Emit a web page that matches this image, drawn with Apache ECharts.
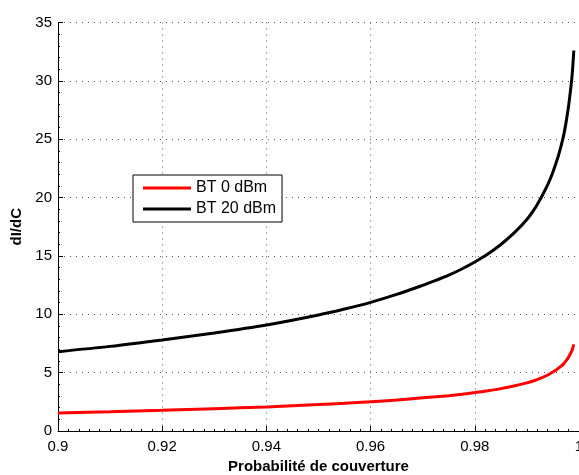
<!DOCTYPE html>
<html>
<head>
<meta charset="utf-8">
<script src="https://cdn.jsdelivr.net/npm/echarts@6/dist/echarts.min.js"></script>
<style>
html,body{margin:0;padding:0;background:#fff;overflow:hidden;width:579px;height:475px;}
#c{width:579px;height:475px;}
</style>
</head>
<body>
<div id="c"></div>
<script>
const xValues   = [0.9, 0.91, 0.92, 0.93, 0.94, 0.95, 0.955, 0.96, 0.965, 0.97, 0.9725, 0.975, 0.9775, 0.98, 0.9825, 0.985, 0.9875, 0.99, 0.9915, 0.9928, 0.994, 0.995, 0.996, 0.9965, 0.997, 0.9975, 0.998, 0.9983, 0.9986, 0.9988, 0.999];
const bt0Values = [1.54, 1.65, 1.77, 1.91, 2.06, 2.26, 2.37, 2.50, 2.66, 2.84, 2.93, 3.03, 3.15, 3.29, 3.45, 3.63, 3.85, 4.12, 4.33, 4.56, 4.80, 5.05, 5.35, 5.53, 5.73, 6.00, 6.33, 6.57, 6.84, 7.09, 7.42];
const bt20Values= [6.80, 7.25, 7.80, 8.40, 9.08, 9.94, 10.45, 11.02, 11.70, 12.48, 12.90, 13.35, 13.88, 14.48, 15.16, 15.98, 16.95, 18.12, 19.05, 20.05, 21.10, 22.20, 23.52, 24.32, 25.22, 26.40, 27.85, 28.92, 30.10, 31.20, 32.60];
const seriesNames = ['BT 0 dBm', 'BT 20 dBm'];
const xTickLabels = ['0.9', '0.92', '0.94', '0.96', '0.98', '1'];
const yTickLabels = ['0', '5', '10', '15', '20', '25', '30', '35'];

const pairs = (ys) => xValues.map((x, i) => [x, ys[i]]);
const font = 'Liberation Sans, Arial, Helvetica, sans-serif';

const chart = echarts.init(document.getElementById('c'), null, {renderer: 'canvas', width: 579, height: 475});
chart.setOption({
  animation: false,
  backgroundColor: '#ffffff',
  grid: {left: 58, right: 0, top: 22.5, bottom: 44, containLabel: false, outerBoundsMode: 'none'},
  legend: {
    orient: 'vertical',
    left: 133, top: 175,
    data: seriesNames,
    icon: 'rect',
    itemWidth: 48, itemHeight: 3,
    itemGap: 5,
    padding: [5, 6, 5, 10],
    borderColor: '#000', borderWidth: 1,
    backgroundColor: '#fff',
    textStyle: {fontSize: 16, color: '#000', fontFamily: font}
  },
  xAxis: {
    type: 'value', min: 0.9, max: 1, interval: 0.02,
    name: 'Probabilité de couverture', nameLocation: 'middle', nameGap: 25,
    nameTextStyle: {fontSize: 15, fontWeight: 'bold', color: '#000', fontFamily: font},
    axisLine: {lineStyle: {color: '#000', width: 1}},
    axisTick: {inside: true, length: 5, lineStyle: {color: '#000'}},
    minorTick: {show: true, splitNumber: 10, length: 2, lineStyle: {color: '#000'}},
    axisLabel: {fontSize: 15, color: '#000', fontFamily: font, margin: 8,
      formatter: (v) => { const i = Math.round((v - 0.9) / 0.02); return xTickLabels[i] ?? ''; }},
    splitLine: {show: true, lineStyle: {color: '#555', type: [1, 5], width: 1}}
  },
  yAxis: {
    type: 'value', min: 0, max: 35, interval: 5,
    name: 'dI/dC', nameLocation: 'middle', nameGap: 33,
    nameTextStyle: {fontSize: 15, fontWeight: 'bold', color: '#000', fontFamily: font},
    axisLine: {show: true, lineStyle: {color: '#000', width: 1}},
    axisTick: {show: true, inside: true, length: 5, lineStyle: {color: '#000'}},
    minorTick: {show: true, splitNumber: 5, length: 2, lineStyle: {color: '#000'}},
    axisLabel: {fontSize: 15, color: '#000', fontFamily: font, margin: 6,
      formatter: (v) => yTickLabels[Math.round(v / 5)] ?? ''},
    splitLine: {show: true, lineStyle: {color: '#555', type: [1, 5], width: 1}}
  },
  series: [
    {name: seriesNames[0], type: 'line', data: pairs(bt0Values), showSymbol: false,
     smooth: 0.3, lineStyle: {color: '#ff0000', width: 3}, itemStyle: {color: '#ff0000'}},
    {name: seriesNames[1], type: 'line', data: pairs(bt20Values), showSymbol: false,
     smooth: 0.3, lineStyle: {color: '#000000', width: 3}, itemStyle: {color: '#000000'}}
  ]
});
</script>
</body>
</html>
